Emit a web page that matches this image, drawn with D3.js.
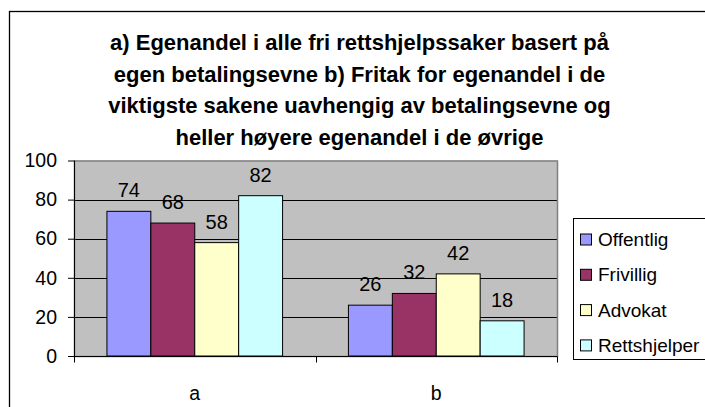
<!DOCTYPE html>
<html>
<head>
<meta charset="utf-8">
<script src="https://cdn.jsdelivr.net/npm/d3@7"></script>
<style>
  html, body { margin: 0; padding: 0; background: #fff; }
  svg { display: block; }
  svg text { font-family: "Liberation Sans", Arial, sans-serif; }
</style>
</head>
<body>
<svg id="chart" width="705" height="407"></svg>
<script>
// Survey answers, percent per respondent group
const categories = ["a", "b"];
const seriesNames = ["Offentlig", "Frivillig", "Advokat", "Rettshjelper"];
const offentlig = [74, 26];
const frivillig = [68, 32];
const advokat = [58, 42];
const rettshjelper = [82, 18];
const yTicks = [0, 20, 40, 60, 80, 100];
const titleLines = [
  "a) Egenandel i alle fri rettshjelpssaker basert på",
  "egen betalingsevne b) Fritak for egenandel i de",
  "viktigste sakene uavhengig av betalingsevne og",
  "heller høyere egenandel i de øvrige"
];
const colors = ["#9999FF", "#993366", "#FFFFCC", "#CCFFFF"];

const FONT = "'Liberation Sans', Arial, sans-serif";
const seriesValues = [offentlig, frivillig, advokat, rettshjelper];
const rows = categories.map((c, i) => ({
  cat: c,
  vals: seriesNames.map((s, k) => ({ name: s, value: seriesValues[k][i] }))
}));

const svg = d3.select("#chart");

// Chart area frame
svg.append("rect")
  .attr("x", 9.5).attr("y", 11.5)
  .attr("width", 710).attr("height", 420)
  .attr("fill", "#fff").attr("stroke", "#000").attr("stroke-width", 1.3);

// Title
const title = svg.append("text")
  .attr("text-anchor", "middle")
  .attr("font-family", FONT)
  .attr("font-size", 22)
  .attr("font-weight", "bold")
  .attr("fill", "#000");
titleLines.forEach((line, i) => {
  title.append("tspan").attr("x", 359.5).attr("y", 50 + i * 31.7).text(line);
});

// Plot geometry
const plot = { left: 74, right: 557, top: 160.5, bottom: 356 };

const y = d3.scaleLinear().domain([0, 100]).range([plot.bottom, plot.top]);
const x0 = d3.scaleBand().domain(categories).range([plot.left, plot.right]).padding(0);
const groupW = x0.bandwidth() * 4 / (4 + 1.5);
const x1 = d3.scaleBand().domain(seriesNames)
  .range([(x0.bandwidth() - groupW) / 2, (x0.bandwidth() + groupW) / 2]).padding(0);
const color = d3.scaleOrdinal().domain(seriesNames).range(colors);

// Plot background
svg.append("rect")
  .attr("x", plot.left).attr("y", plot.top)
  .attr("width", plot.right - plot.left).attr("height", plot.bottom - plot.top)
  .attr("fill", "#C0C0C0");

// Horizontal gridlines
svg.append("g")
  .selectAll("line")
  .data(yTicks.filter(t => t > 0 && t < 100))
  .join("line")
  .attr("x1", plot.left).attr("x2", plot.right)
  .attr("y1", d => Math.round(y(d)) + 0.5).attr("y2", d => Math.round(y(d)) + 0.5)
  .attr("stroke", "#000").attr("stroke-width", 1);

// Plot border
svg.append("rect")
  .attr("x", plot.left + 0.5).attr("y", plot.top + 0.5)
  .attr("width", plot.right - plot.left).attr("height", plot.bottom - plot.top)
  .attr("fill", "none").attr("stroke", "#808080").attr("stroke-width", 1.5);

// Bars
const groups = svg.append("g")
  .selectAll("g")
  .data(rows)
  .join("g")
  .attr("transform", d => `translate(${x0(d.cat)},0)`);

groups.selectAll("rect")
  .data(d => d.vals)
  .join("rect")
  .attr("x", d => x1(d.name))
  .attr("y", d => y(d.value))
  .attr("width", x1.bandwidth())
  .attr("height", d => y(0) - y(d.value))
  .attr("fill", d => color(d.name))
  .attr("stroke", "#000").attr("stroke-width", 1);

// Value labels
groups.selectAll("text")
  .data(d => d.vals)
  .join("text")
  .attr("x", d => x1(d.name) + x1.bandwidth() / 2)
  .attr("y", d => y(d.value) - 14)
  .attr("text-anchor", "middle")
  .attr("font-family", FONT)
  .attr("font-size", 20)
  .attr("fill", "#000")
  .text(d => d.value);

// Y axis
const yAxis = svg.append("g")
  .attr("transform", `translate(${plot.left},0)`)
  .call(d3.axisLeft(y).tickValues(yTicks).tickSize(6).tickPadding(11).tickFormat(d3.format("d")));
yAxis.attr("font-family", FONT).attr("font-size", 19.5);
yAxis.select(".domain").attr("stroke", "#000").attr("d", `M0.5,${plot.top}V${plot.bottom}`);
yAxis.selectAll(".tick line").attr("stroke", "#000");
yAxis.selectAll(".tick text").attr("fill", "#000");

// X axis with ticks between categories
const xAxis = svg.append("g")
  .attr("transform", `translate(0,${plot.bottom + 0.5})`);
xAxis.append("line")
  .attr("x1", plot.left - 6).attr("x2", plot.right)
  .attr("stroke", "#000");
const boundaries = categories.map(c => x0(c)).concat([x0(categories[categories.length - 1]) + x0.bandwidth()]);
xAxis.selectAll("line.tk")
  .data(boundaries)
  .join("line")
  .attr("class", "tk")
  .attr("x1", d => Math.round(d) + 0.5).attr("x2", d => Math.round(d) + 0.5)
  .attr("y1", 0).attr("y2", 6)
  .attr("stroke", "#000");
xAxis.selectAll("text")
  .data(categories)
  .join("text")
  .attr("x", d => x0(d) + x0.bandwidth() / 2)
  .attr("y", 43.5)
  .attr("text-anchor", "middle")
  .attr("font-family", FONT)
  .attr("font-size", 19.5)
  .attr("fill", "#000")
  .text(d => d);

// Legend
const legend = svg.append("g");
legend.append("rect")
  .attr("x", 573.5).attr("y", 218.5)
  .attr("width", 140).attr("height", 141)
  .attr("fill", "#fff").attr("stroke", "#000").attr("stroke-width", 1);
const items = legend.selectAll("g.item")
  .data(seriesNames)
  .join("g")
  .attr("class", "item")
  .attr("transform", (d, i) => `translate(0,${239.5 + i * 35.3})`);
items.append("rect")
  .attr("x", 580.5).attr("y", -5.5)
  .attr("width", 11).attr("height", 11)
  .attr("fill", d => color(d)).attr("stroke", "#000");
items.append("text")
  .attr("x", 598)
  .attr("y", 0)
  .attr("dy", "0.35em")
  .attr("font-family", FONT)
  .attr("font-size", 19)
  .attr("fill", "#000")
  .text(d => d);
</script>
</body>
</html>
